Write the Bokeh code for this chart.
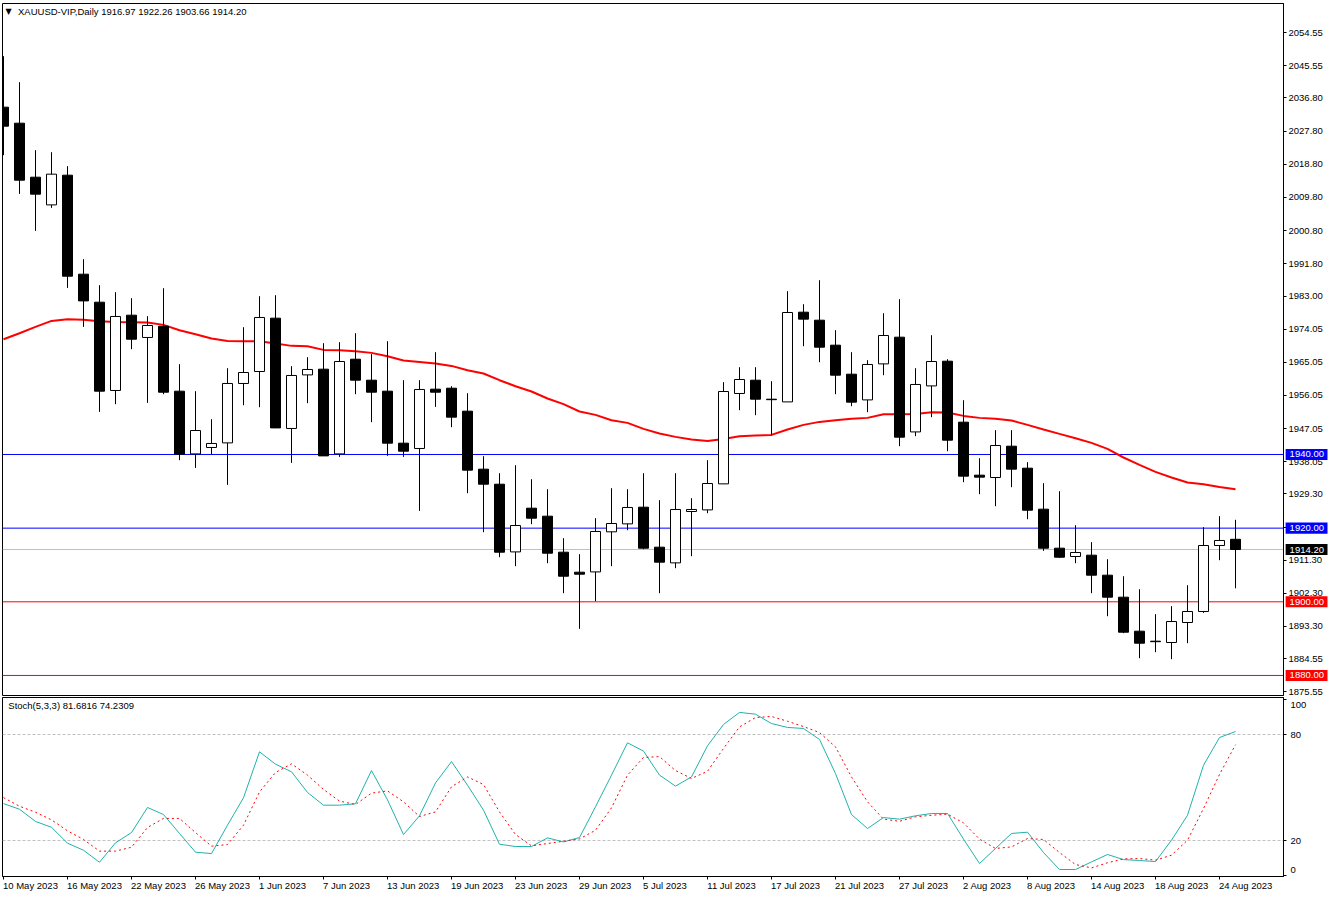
from bokeh.plotting import figure
from bokeh.layouts import column
from bokeh.models import Label, Span, FixedTicker, LinearAxis
from bokeh.embed import file_html
from bokeh.resources import INLINE

opens = [2034.30,2029.95,2015.29,2007.77,2015.83,1988.95,1981.35,1957.38,1977.82,1971.77,
         1974.83,1957.19,1940.16,1941.90,1943.15,1959.28,1962.53,1977.01,1947.06,1961.61,
         1963.16,1940.16,1965.87,1960.17,1957.19,1943.07,1941.63,1957.73,1958.00,1951.76,
         1936.01,1931.93,1913.55,1925.42,1923.25,1913.47,1908.04,1908.12,1919.00,1921.16,
         1925.69,1914.83,1910.57,1924.52,1924.96,1932.02,1956.56,1960.17,1955.01,1954.28,
         1978.64,1976.46,1969.68,1961.80,1954.82,1964.60,1971.85,1946.13,1958.62,1965.33,
         1948.77,1934.38,1933.75,1942.25,1936.28,1925.15,1914.56,1912.30,1912.66,1907.23,
         1901.25,1892.02,1889.31,1888.95,1894.38,1897.37,1915.29,1916.97]
highs = [2048.15,2041.09,2022.62,2022.08,2018.28,1993.03,1985.97,1984.07,1982.44,1977.55,
         1985.15,1964.52,1957.19,1949.58,1963.43,1974.56,1982.98,1983.25,1963.97,1966.42,
         1970.22,1970.49,1972.93,1967.23,1970.76,1960.17,1960.17,1967.78,1958.54,1956.64,
         1939.54,1934.92,1937.09,1933.29,1930.58,1917.27,1912.93,1922.70,1930.85,1930.58,
         1934.92,1927.59,1934.92,1928.13,1938.45,1959.63,1963.70,1963.70,1959.90,1984.34,
         1980.81,1987.32,1973.75,1967.78,1965.60,1978.36,1982.17,1963.43,1972.39,1965.87,
         1954.74,1938.99,1946.60,1946.60,1937.91,1932.21,1930.03,1920.80,1916.19,1911.57,
         1906.95,1903.42,1896.64,1898.81,1904.51,1920.26,1923.25,1922.26]
lows = [2021.26,2010.76,2000.71,2006.96,1985.23,1974.64,1951.57,1953.66,1968.59,1954.01,
        1956.37,1938.45,1936.36,1940.08,1931.74,1953.38,1952.84,1947.14,1937.72,1953.93,
        1939.62,1939.35,1956.37,1948.77,1939.62,1939.35,1924.68,1952.92,1947.41,1929.49,
        1918.90,1912.11,1909.67,1921.07,1910.48,1902.34,1892.65,1900.17,1909.67,1919.44,
        1914.29,1902.34,1909.13,1912.38,1924.06,1932.02,1952.03,1950.67,1945.24,1954.28,
        1969.40,1965.06,1956.37,1953.11,1951.48,1961.53,1942.25,1944.97,1950.13,1940.89,
        1932.48,1929.22,1925.96,1931.12,1922.43,1913.82,1911.92,1910.48,1902.34,1896.09,
        1891.48,1884.69,1886.32,1884.42,1888.76,1896.99,1911.30,1903.66]
closes = [2029.14,2014.48,2010.68,2016.11,1988.41,1981.70,1957.19,1977.47,1971.30,1975.02,
          1956.91,1940.08,1946.51,1942.99,1959.28,1962.26,1977.20,1947.22,1961.45,1963.08,
          1939.62,1965.25,1960.17,1956.91,1943.07,1940.89,1957.65,1956.91,1950.13,1935.74,
          1931.93,1913.47,1920.72,1922.70,1913.20,1906.95,1907.50,1919.09,1921.26,1925.61,
          1914.56,1910.76,1925.07,1925.07,1932.12,1957.10,1960.36,1955.01,1954.88,1978.55,
          1976.74,1969.13,1961.53,1954.20,1964.44,1972.31,1944.70,1959.01,1965.25,1943.88,
          1934.11,1933.84,1942.44,1936.01,1924.87,1914.56,1912.11,1913.39,1907.23,1901.25,
          1891.75,1888.76,1889.17,1894.65,1897.37,1915.29,1916.65,1914.20]
ma_values = [1971.30,1972.93,1974.64,1976.27,1976.74,1976.55,1976.19,1976.00,1975.92,1975.84,
             1975.19,1973.75,1972.66,1971.49,1970.84,1970.76,1970.76,1970.14,1969.49,1969.40,
             1968.40,1968.32,1968.05,1967.59,1966.69,1965.52,1965.14,1964.71,1964.05,1962.89,
             1961.99,1960.17,1958.54,1957.10,1955.20,1953.66,1951.67,1950.75,1949.31,1948.58,
             1946.95,1945.70,1944.78,1944.07,1943.69,1944.23,1944.97,1945.16,1945.32,1946.79,
             1948.04,1948.85,1949.31,1949.67,1949.94,1950.94,1950.94,1951.02,1951.48,1951.40,
             1950.48,1949.94,1949.72,1949.23,1948.04,1946.79,1945.59,1944.42,1943.15,1941.52,
             1939.18,1937.17,1935.27,1933.75,1932.40,1931.93,1931.20,1930.58]
stoch_main = [40.9,37.7,30.8,27.5,18.5,14.5,7.7,18.7,24.5,38.7,
              34.7,24.0,13.4,12.6,28.7,44.2,70.2,63.2,58.9,47.2,
              40.0,40.0,40.8,59.6,43.0,23.4,34.0,52.6,64.7,51.3,
              37.2,17.9,16.6,16.6,21.5,19.2,21.7,39.1,57.0,75.3,
              70.6,57.0,50.8,56.0,73.6,85.7,92.5,91.5,86.2,84.0,
              83.4,77.2,57.9,34.7,26.8,33.0,32.1,34.0,35.3,35.3,
              20.8,7.0,15.5,24.0,24.7,13.2,3.6,3.6,7.9,12.1,
              9.2,8.7,8.1,20.2,34.3,62.6,78.3,81.68]
stoch_signal = [44.3,39.4,36.0,31.7,25.5,20.6,14.0,14.0,16.2,27.4,
                32.5,32.5,24.5,16.8,17.7,28.7,47.5,58.5,63.4,57.0,
                48.9,42.3,40.4,46.8,48.1,41.9,33.6,36.2,50.4,56.0,
                51.7,36.2,23.4,17.0,18.3,19.6,20.9,25.8,38.5,57.0,
                67.0,67.5,59.6,55.1,59.2,72.1,84.3,89.6,90.2,87.5,
                84.5,81.1,73.0,56.0,41.9,32.1,30.9,33.4,34.3,34.9,
                30.0,20.8,15.5,16.4,21.1,20.6,13.2,6.4,4.5,7.4,
                9.6,9.8,8.9,11.7,20.2,38.1,57.4,74.23]
date_labels = ["10 May 2023","16 May 2023","22 May 2023","26 May 2023","1 Jun 2023","7 Jun 2023",
               "13 Jun 2023","19 Jun 2023","23 Jun 2023","29 Jun 2023","5 Jul 2023","11 Jul 2023",
               "17 Jul 2023","21 Jul 2023","27 Jul 2023","2 Aug 2023","8 Aug 2023","14 Aug 2023",
               "18 Aug 2023","24 Aug 2023"]
price_ticks = [2054.55,2045.55,2036.80,2027.80,2018.80,2009.80,2000.80,1991.80,1983.00,1974.05,
               1965.05,1956.05,1947.05,1938.05,1929.30,1920.30,1911.30,1902.30,1893.30,1884.55,1875.55]
tag_levels = [1940.0, 1920.0, 1914.20, 1900.0, 1880.0]
tag_colors = ["#0000ff", "#0000ff", "#000000", "#ff0000", "#ff0000"]
line_levels = [1940.0, 1920.0, 1900.0, 1880.0]
line_colors = ["#0000ff", "#0000ff", "#ff0000", "#ff0000"]
last_price = 1914.20
stoch_levels = [80, 20]
stoch_ticks = [0, 20, 80, 100]
stoch_label_spots = {3.2: "0", 20: "20", 80: "80", 96.8: "100"}
title_text = "XAUUSD-VIP,Daily  1916.97 1922.26 1903.66 1914.20"
stoch_text = "Stoch(5,3,3) 81.6816 74.2309"

FONT = "Liberation Sans"
FONT_PX = 9.5
FS = f"{FONT_PX}px"
idx = list(range(len(closes)))
assert all(len(a) == 78 for a in (opens, highs, lows, closes, ma_values, stoch_main, stoch_signal))

FRAME_W = 1281
PX_PER_BAR = 16
x_start = -1 / PX_PER_BAR
x_end = x_start + FRAME_W / PX_PER_BAR
tick_idx = [4 * i for i in range(len(date_labels))]
price_range = (1874.56, 2062.45)
stoch_range = (-0.36, 100.94)

# em widths of the glyphs in the date labels, to start each label at its tick
EM = {" ": .278, "M": .833, "a": .556, "y": .5, "J": .5, "u": .556, "n": .556, "l": .222, "A": .667, "g": .556}


def label_width(t):
    return sum(EM.get(c, .556) for c in t) * FONT_PX


def text(plot, x, y, s, color="black", **kw):
    plot.add_layout(Label(x=x, y=y, text=s, text_font=FONT, text_font_size=FS, text_color=color,
                          text_baseline="middle", text_align="left", level="overlay", **kw))


# ---------- price panel
p = figure(width=1329, height=697, output_backend="svg", toolbar_location=None,
           x_range=(x_start, x_end), y_range=price_range,
           min_border_left=2, min_border_top=3, min_border_bottom=2, min_border_right=46,
           x_axis_location=None, y_axis_location="right", background_fill_color="white")
p.grid.visible = False
p.outline_line_color = "black"
p.yaxis.ticker = FixedTicker(ticks=price_ticks)
p.yaxis.major_label_overrides = {t: f"{t:.2f}" for t in price_ticks}
p.yaxis.major_label_text_font = FONT
p.yaxis.major_label_text_font_size = FS
p.yaxis.major_label_text_color = "black"
p.yaxis.major_tick_in = 0
p.yaxis.major_tick_out = 3
p.yaxis.minor_tick_line_color = None
p.yaxis.axis_line_color = "black"
p.yaxis.major_tick_line_color = "black"
p.yaxis.major_label_standoff = 2

for lvl, col in zip(line_levels, line_colors):
    p.add_layout(Span(location=lvl, dimension="width", line_color=col, line_width=1, level="underlay"))
p.add_layout(Span(location=last_price, dimension="width", line_color="#c0c0c0", line_width=1, level="underlay"))

p.line(idx, ma_values, line_color="#ff0000", line_width=2)
p.segment(idx, highs, idx, lows, line_color="black", line_width=1)

up = [i for i in idx if closes[i] > opens[i]]
down = [i for i in idx if closes[i] <= opens[i]]
body_w = 10 / PX_PER_BAR
p.vbar(x=up, width=body_w, bottom=[opens[i] for i in up], top=[closes[i] for i in up],
       fill_color="white", line_color="black", line_width=1)
p.vbar(x=down, width=body_w, bottom=[closes[i] for i in down], top=[opens[i] for i in down],
       fill_color="black", line_color="black", line_width=1)

text(p, 0.906, 2060.2, title_text)
p.add_layout(Label(x=0.12, y=2060.2, text="\u25bc", text_font="DejaVu Sans", text_font_size="8px",
                   text_color="black", text_baseline="middle", text_align="left"))

# ---------- price tags, a transparent sheet laid over the price panel
TAGS_FRAME_W = 1331
tags = figure(width=1375, height=697, frame_width=TAGS_FRAME_W, frame_height=692,
              output_backend="svg", toolbar_location=None,
              x_range=(x_start, x_start + TAGS_FRAME_W / PX_PER_BAR), y_range=price_range,
              min_border_left=2, min_border_right=0, min_border_top=3, min_border_bottom=2,
              x_axis_location=None, y_axis_location=None,
              background_fill_color=None, border_fill_color=None, outline_line_color=None,
              styles={"position": "absolute", "left": "0px", "top": "0px"})
tags.grid.visible = False
TAG_LEFT, TAG_RIGHT, TAG_TEXT = 80.375, 83.0, 80.625
tags.hbar(y=tag_levels, left=TAG_LEFT, right=TAG_RIGHT, height=3.0, fill_color=tag_colors, line_color=None)
for lvl in tag_levels:
    text(tags, TAG_TEXT, lvl, f"{lvl:.2f}", color="white")

# ---------- stochastic panel
s = figure(width=1329, height=197, output_backend="svg", toolbar_location=None,
           x_range=(x_start, x_end), y_range=stoch_range,
           min_border_left=2, min_border_top=0, min_border_bottom=18, min_border_right=46,
           x_axis_location="below", y_axis_location="right", background_fill_color="white")
s.grid.visible = False
s.outline_line_color = "black"
for lvl in stoch_levels:
    s.add_layout(Span(location=lvl, dimension="width", line_color="#c0c0c0", line_width=1,
                      line_dash=[3, 2], level="underlay"))
s.line(idx, stoch_main, line_color="#20b2aa", line_width=1)
s.line(idx, stoch_signal, line_color="#ff0000", line_width=1, line_dash=[2, 3])

s.yaxis.ticker = FixedTicker(ticks=list(stoch_label_spots), minor_ticks=stoch_ticks)
s.yaxis.major_label_overrides = stoch_label_spots
s.yaxis.major_label_text_font = FONT
s.yaxis.major_label_text_font_size = FS
s.yaxis.major_label_text_color = "black"
s.yaxis.major_tick_line_color = None
s.yaxis.major_tick_in = 0
s.yaxis.major_tick_out = 0
s.yaxis.minor_tick_in = 0
s.yaxis.minor_tick_out = 3
s.yaxis.minor_tick_line_color = "black"
s.yaxis.major_label_standoff = 4

s.xaxis.ticker = FixedTicker(ticks=tick_idx)
s.xaxis.major_label_overrides = {t: "" for t in tick_idx}
s.xaxis.major_tick_in = 0
s.xaxis.major_tick_out = 3
s.xaxis.minor_tick_line_color = None
s.xaxis.major_label_standoff = 0
s.xaxis.major_label_text_font_size = "1px"

centers = [t + (label_width(lab) / 2 - 0.5) / PX_PER_BAR for t, lab in zip(tick_idx, date_labels)]
date_axis = LinearAxis(ticker=FixedTicker(ticks=centers),
                       major_label_overrides=dict(zip(centers, date_labels)),
                       axis_line_color=None, major_tick_line_color=None, minor_tick_line_color=None,
                       major_tick_in=0, major_tick_out=0, minor_tick_in=0, minor_tick_out=0,
                       major_label_standoff=0, major_label_text_font=FONT,
                       major_label_text_font_size=FS, major_label_text_color="black")
s.add_layout(date_axis, "below")

text(s, 0.3, 96.2, stoch_text)

layout = column(p, s, tags, spacing=0, styles={"overflow": "hidden"})
open("out.html", "w").write(file_html(layout, INLINE))
